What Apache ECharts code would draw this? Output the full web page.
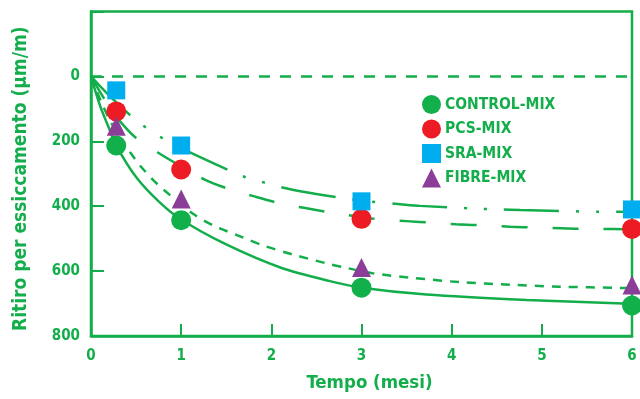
<!DOCTYPE html>
<html>
<head>
<meta charset="utf-8">
<script src="https://cdn.jsdelivr.net/npm/echarts@6/dist/echarts.min.js"></script>
<style>
html,body{margin:0;padding:0;background:#fff;}
#chart{width:640px;height:399px;}
</style>
</head>
<body>
<div id="chart"></div>
<script>
// ---- data ----
const seriesNames = ['CONTROL-MIX', 'PCS-MIX', 'SRA-MIX', 'FIBRE-MIX'];
const months = [0.28, 1, 3, 6];
const controlMix = [213, 443, 651, 706];
const pcsMix = [108, 287, 439, 470];
const sraMix = [43, 213, 385, 410];
const fibreMix = [154, 378, 589, 643];

// fitted curves
const controlFitX = [0, 0.1, 0.2, 0.28, 0.5, 0.75, 1, 1.5, 2.1, 2.65, 3, 3.72, 4.83, 5.9, 6];
const controlFitY = [0, 90, 160, 213, 310, 385, 441, 518, 589, 631, 651, 672, 689, 700, 701];
const pcsFitX = [0, 0.1, 0.2, 0.32, 0.5, 0.75, 0.93, 1.26, 1.52, 1.8, 2.08, 2.36, 2.63, 3.11, 3.5, 3.78, 4.05, 4.35, 4.65, 4.92, 5.22, 5.5, 5.79, 6];
const pcsFitY = [0, 48, 92, 138, 190, 236, 266, 318, 346, 369, 390, 405, 418, 438, 446, 451, 456, 459, 463, 466, 468, 470, 470, 471];
const sraFitX = [0, 0.1, 0.25, 0.49, 0.67, 0.84, 1.08, 1.67, 1.87, 2.1, 2.32, 2.89, 3.1, 3.43, 3.65, 4.3, 4.52, 4.76, 4.98, 5.64, 5.86, 6];
const sraFitY = [0, 30, 72, 133, 169, 198, 232, 306, 323, 341, 354, 379, 386, 394, 399, 408, 410, 412, 413, 417, 417, 418];
const fibreFitX = [0, 0.1, 0.2, 0.3, 0.45, 0.56, 0.71, 0.86, 1.14, 1.36, 1.69, 1.91, 2.24, 2.61, 2.83, 3.13, 3.54, 4.09, 4.65, 5.2, 5.87, 6];
const fibreFitY = [0, 70, 130, 180, 240, 280, 325, 362, 425, 460, 497, 521, 549, 576, 590, 607, 620, 634, 642, 648, 652, 653];

const xTicks = [0, 1, 2, 3, 4, 5, 6];
const yTicks = [0, 200, 400, 600, 800];

// ---- style ----
const GREEN = '#13ae4b';
const FONT = '"DejaVu Sans Condensed", "DejaVu Sans", sans-serif';
const markerColors = ['#12b04a', '#ed1c24', '#00aeef', '#8b3e97'];
const markerShapes = ['circle', 'circle', 'rect', 'triangle'];
const markerSizes = [20, 20, 18, 19];

function zip(xs, ys) { return xs.map((x, i) => [x, ys[i]]); }

const pointSets = [controlMix, pcsMix, sraMix, fibreMix];
const fits = [
  [controlFitX, controlFitY, 'solid'],
  [pcsFitX, pcsFitY, [26, 25]],
  [sraFitX, sraFitY, [55, 17, 3, 17, 3, 17]],
  [fibreFitX, fibreFitY, [9, 8]]
];

const series = [];
// zero reference line
series.push({
  type: 'line', data: [[0, 0], [6, 0]], symbol: 'none', silent: true,
  lineStyle: { color: GREEN, width: 2.5, type: [11, 10], cap: 'butt' }, z: 2
});
fits.forEach(f => {
  series.push({
    type: 'line', data: zip(f[0], f[1]), smooth: 0.3, symbol: 'none', silent: true,
    lineStyle: { color: GREEN, width: 2.5, type: f[2], cap: 'butt' }, z: 3
  });
});
seriesNames.forEach((n, i) => {
  series.push({
    name: n, type: 'scatter', data: zip(months, pointSets[i]),
    symbol: markerShapes[i], symbolSize: markerSizes[i],
    itemStyle: { color: markerColors[i], opacity: 1 }, z: 5
  });
});

const chart = echarts.init(document.getElementById('chart'), null, { renderer: 'canvas' });
chart.setOption({
  animation: false,
  backgroundColor: '#fff',
  grid: {
    left: 91, right: 8, top: 11.5, bottom: 63,
    show: true, borderColor: GREEN, borderWidth: 2.5, backgroundColor: 'transparent'
  },
  legend: {
    orient: 'vertical', left: 417, top: 90,
    itemWidth: 19, itemHeight: 19, itemGap: 5.5,
    data: seriesNames.map((n, i) => ({ name: n, icon: markerShapes[i] })),
    textStyle: { color: GREEN, fontFamily: FONT, fontWeight: 'bold', fontSize: 15.5, padding: [0, 0, 0, -1] }
  },
  xAxis: {
    type: 'value', min: 0, max: 6, interval: 1,
    name: 'Tempo (mesi)', nameLocation: 'middle', nameGap: 38,
    nameTextStyle: { color: GREEN, fontFamily: FONT, fontWeight: 'bold', fontSize: 18.5, padding: [0, 0, 0, 16] },
    axisLine: { show: true, onZero: false, lineStyle: { color: GREEN, width: 2.5 } },
    axisTick: { show: true, inside: true, length: 12, lineStyle: { color: GREEN, width: 2 } },
    splitLine: { show: false },
    axisLabel: {
      color: GREEN, fontFamily: FONT, fontWeight: 'bold', fontSize: 15, margin: 13,
      formatter: v => xTicks.includes(v) ? String(v) : ''
    }
  },
  yAxis: {
    type: 'value', min: -200, max: 800, interval: 200, inverse: true,
    name: 'Ritiro per essiccamento (µm/m)', nameLocation: 'middle', nameGap: 60, nameRotate: 90,
    nameTextStyle: { color: GREEN, fontFamily: FONT, fontWeight: 'bold', fontSize: 19, padding: [0, 10, 0, 0] },
    axisLine: { show: true, onZero: false, lineStyle: { color: GREEN, width: 2.5 } },
    axisTick: { show: true, inside: true, length: 13, lineStyle: { color: GREEN, width: 2 } },
    splitLine: { show: false },
    axisLabel: {
      color: GREEN, fontFamily: FONT, fontWeight: 'bold', fontSize: 15, margin: 11,
      formatter: v => yTicks.includes(v) ? String(v) : ''
    }
  },
  series: series
});
</script>
</body>
</html>
